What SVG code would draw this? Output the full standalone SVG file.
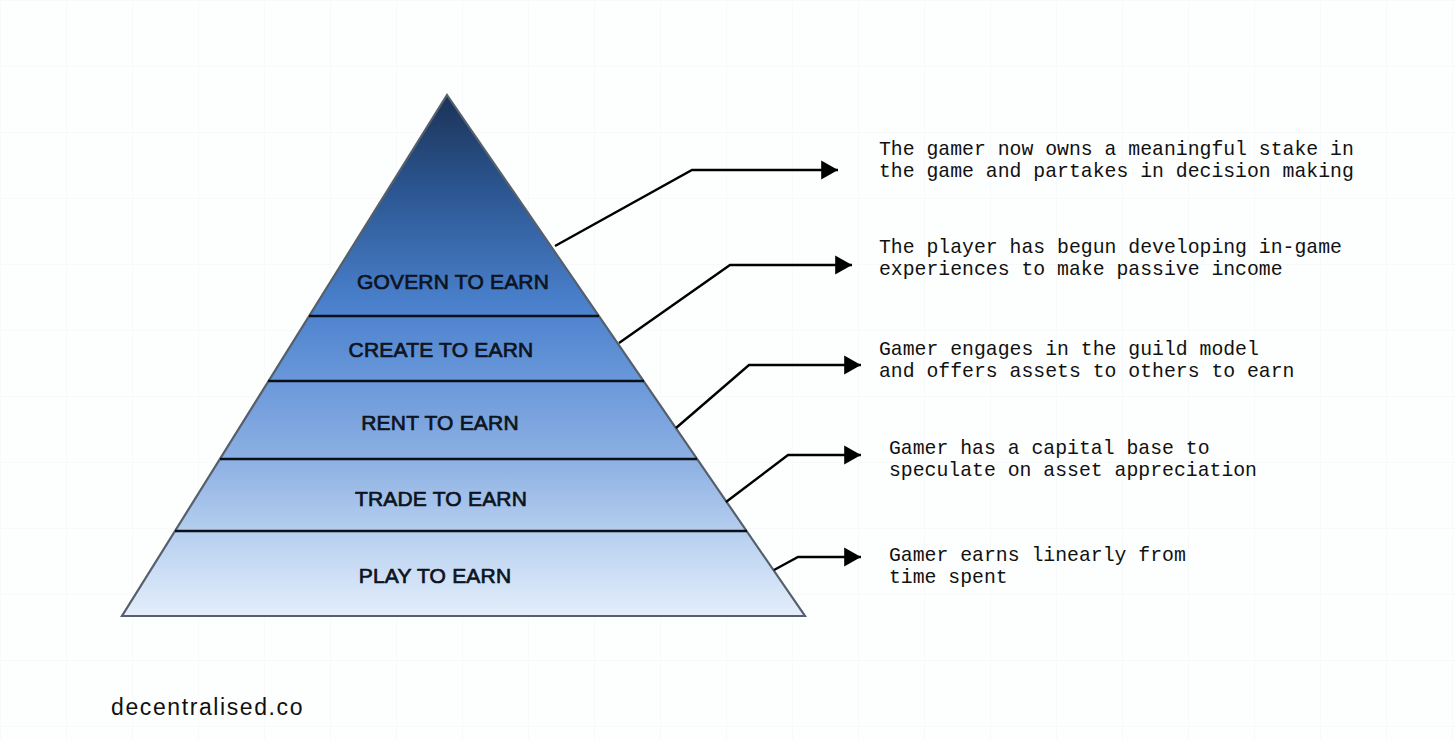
<svg xmlns="http://www.w3.org/2000/svg" width="1456" height="740" viewBox="0 0 1456 740">
<defs>
<linearGradient id="pyr" gradientUnits="userSpaceOnUse" x1="0" y1="95" x2="0" y2="616">
<stop offset="0" stop-color="#1b3357"/>
<stop offset="0.18" stop-color="#2b5590"/>
<stop offset="0.4" stop-color="#4a80cc"/>
<stop offset="0.55" stop-color="#6a98da"/>
<stop offset="0.72" stop-color="#92b4e4"/>
<stop offset="0.86" stop-color="#bcd3f1"/>
<stop offset="1" stop-color="#e4eefb"/>
</linearGradient>
<pattern id="grid" width="66" height="66" patternUnits="userSpaceOnUse">
<path d="M0 0H66M0 0V66" fill="none" stroke="#f6f8f9" stroke-width="1.5"/>
</pattern>
<marker id="arr" markerWidth="8" markerHeight="8" refX="7" refY="4" orient="auto" markerUnits="strokeWidth">
<path d="M0 0L7 4L0 8z" fill="#000"/>
</marker>
</defs>
<style>
.lvl{font-family:"Liberation Sans","DejaVu Sans",sans-serif;font-size:21px;fill:#0d1420;stroke:#0d1420;stroke-width:0.7;text-anchor:middle;letter-spacing:0.2px}
.desc{font-family:"Liberation Mono","DejaVu Sans Mono",monospace;font-size:19.8px;fill:#111}
.conn{fill:none;stroke:#000;stroke-width:2.4;marker-end:url(#arr)}
.div{stroke:#0a0f1a;stroke-width:2.5}
.logo{font-family:"Liberation Sans","DejaVu Sans",sans-serif;font-size:23px;fill:#111;letter-spacing:1.6px}
</style>
<rect width="1456" height="740" fill="#fdfefe"/>
<rect width="1456" height="740" fill="url(#grid)"/>
<g id="pyramid">
<polygon points="447,95 805,616 122,616" fill="url(#pyr)" stroke="#56606c" stroke-width="2.2" stroke-linejoin="miter"/>
<line class="div" x1="309" y1="316" x2="599" y2="316"/>
<line class="div" x1="268" y1="381" x2="644" y2="381"/>
<line class="div" x1="220" y1="459" x2="697" y2="459"/>
<line class="div" x1="175" y1="531" x2="747" y2="531"/>
</g>
<g id="govern"><text class="lvl" x="453" y="289">GOVERN TO EARN</text></g>
<g id="create"><text class="lvl" x="441" y="357">CREATE TO EARN</text></g>
<g id="rent"><text class="lvl" x="440" y="430">RENT TO EARN</text></g>
<g id="trade"><text class="lvl" x="441" y="506">TRADE TO EARN</text></g>
<g id="play"><text class="lvl" x="435" y="583">PLAY TO EARN</text></g>
<g id="connectors">
<polyline class="conn" points="555,246 692,170 838,170"/>
<polyline class="conn" points="619,343 730,265 852,265"/>
<polyline class="conn" points="676,428 749,365 861,365"/>
<polyline class="conn" points="726,502 788,455 861,455"/>
<polyline class="conn" points="774,570 798,557 861,557"/>
</g>
<g id="desc-govern"><text class="desc" x="879" y="155">The gamer now owns a meaningful stake in</text><text class="desc" x="879" y="177">the game and partakes in decision making</text></g>
<g id="desc-create"><text class="desc" x="879" y="253">The player has begun developing in-game</text><text class="desc" x="879" y="275">experiences to make passive income</text></g>
<g id="desc-rent"><text class="desc" x="879" y="355">Gamer engages in the guild model</text><text class="desc" x="879" y="377">and offers assets to others to earn</text></g>
<g id="desc-trade"><text class="desc" x="889" y="454">Gamer has a capital base to</text><text class="desc" x="889" y="476">speculate on asset appreciation</text></g>
<g id="desc-play"><text class="desc" x="889" y="561">Gamer earns linearly from</text><text class="desc" x="889" y="583">time spent</text></g>
<g id="logo"><text class="logo" x="111" y="715">decentralised.co</text></g>
</svg>
